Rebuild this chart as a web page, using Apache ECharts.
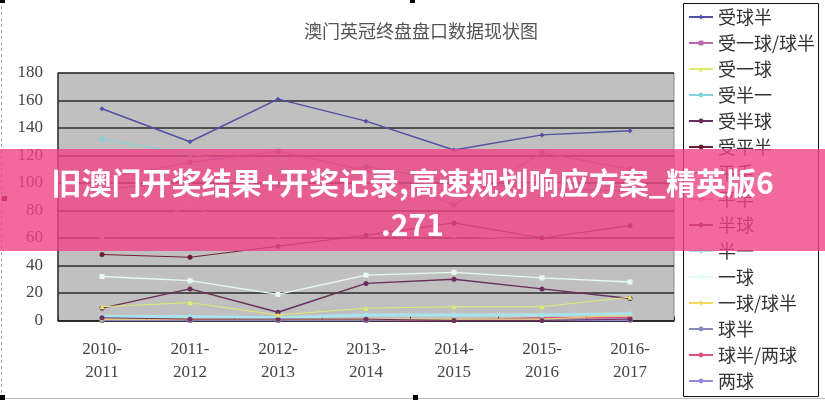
<!DOCTYPE html>
<html>
<head>
<meta charset="utf-8">
<script src="https://cdn.jsdelivr.net/npm/echarts@6/dist/echarts.min.js"></script>
<style>
html,body{margin:0;padding:0;background:#fff;}
#c{width:825px;height:400px;}
</style>
</head>
<body>
<div id="c"></div>
<script>
const titleText = '澳门英冠终盘盘口数据现状图';
const bannerText = '旧澳门开奖结果+开奖记录,高速规划响应方案_精英版6\n.271';
const categories = ['2010-2011','2011-2012','2012-2013','2013-2014','2014-2015','2015-2016','2016-2017'];
const yTicks = [0, 20, 40, 60, 80, 100, 120, 140, 160, 180];

const seriesNames = ['受球半','受一球/球半','受一球','受半一','受半球','受平半','平手','平半','半球','半一','一球','一球/球半','球半','球半/两球','两球'];
const s_shouQiuBan    = [154, 130, 161, 145, 124, 135, 138];
const s_shouYiQiuQB   = [103, 115, 123, 109, 84, 122, 110];
const s_shouYiQiu     = [10, 13, 4, 9, 10, 10, 17];
const s_shouBanYi     = [132, 121, 111, 104, 98, 100, 97];
const s_shouBanQiu    = [9, 23, 6, 27, 30, 23, 16];
const s_shouPingBan   = [48, 46, 54, 62, 71, 60, 69];
const s_pingShou      = [95, 102, 98, 112, 101, 96, 94];
const s_pingBan       = [61, 83, 62, 67, 62, 58, 55];
const s_banQiu        = [2, 1, 1, 1, 0, 0, 1];
const s_banYi         = [3, 3, 2, 4, 4, 4, 5];
const s_yiQiu         = [32, 29, 19, 33, 35, 31, 28];
const s_yiQiuQB       = [1, 1, 1, 1, 1, 1, 4];
const s_qiuBan        = [0, 0, 0, 0, 1, 1, 1];
const s_qiuBanLiangQ  = [0, 0, 0, 0, 0, 2, 2];
const s_liangQiu      = [0, 0, 0, 0, 0, 0, 0];

const seriesData = [s_shouQiuBan, s_shouYiQiuQB, s_shouYiQiu, s_shouBanYi, s_shouBanQiu, s_shouPingBan, s_pingShou, s_pingBan, s_banQiu, s_banYi, s_yiQiu, s_yiQiuQB, s_qiuBan, s_qiuBanLiangQ, s_liangQiu];
const seriesColors = ['#5050a4','#b868b0','#e2ec70','#7fd4dc','#6b2d5e','#6e1c33','#4a9090','#f2b4cc','#703060','#a8e4ee','#e4fbee','#f4d860','#8a8ab8','#e05080','#9a8ad8'];
const seriesSymbols = ['diamond','rect','triangle','circle','circle','circle','circle','rect','circle','circle','rect','diamond','circle','circle','circle'];
const seriesWidths = [1.5,1,1,1,1.5,1,1,1,1,3,1.5,1,1,1.5,1];

const chart = echarts.init(document.getElementById('c'), null, {renderer:'canvas'});

const series = seriesNames.map((n, i) => ({
  name: n,
  type: 'line',
  data: seriesData[i],
  symbol: seriesSymbols[i],
  symbolSize: 5,
  showSymbol: true,
  animation: false,
  itemStyle: { color: seriesColors[i] },
  lineStyle: { color: seriesColors[i], width: seriesWidths[i] },
  z: 3 + (15 - i) * 0.01
}));

const option = {
  animation: false,
  backgroundColor: '#ffffff',
  title: {
    text: titleText,
    left: 416,
    textAlign: 'center',
    top: 17,
    textStyle: { fontFamily: 'Noto Sans CJK SC', fontSize: 18, fontWeight: 'normal', color: '#555' }
  },
  grid: {
    left: 58, right: 151, top: 73, bottom: 79.5,
    show: true, backgroundColor: '#c0c0c0', borderColor: '#8a8a8a', borderWidth: 1
  },
  legend: {
    orient: 'vertical',
    left: 688, top: 7,
    padding: 0,
    itemWidth: 24, itemHeight: 6, itemGap: 6,
    data: seriesNames,
    textStyle: { fontFamily: 'Noto Sans CJK SC', fontSize: 18, color: '#333', lineHeight: 20 },
    selectedMode: false
  },
  xAxis: {
    type: 'category',
    data: categories,
    boundaryGap: true,
    axisLine: { show: true, lineStyle: { color: '#222', width: 1.5 } },
    axisTick: { show: true, inside: true, length: 4, lineStyle: { color: '#333' } },
    axisLabel: {
      margin: 18,
      fontFamily: 'Liberation Serif', fontSize: 17, color: '#444', lineHeight: 23,
      formatter: v => v.replace('-', '-\n')
    },
    splitLine: { show: false }
  },
  yAxis: {
    type: 'value',
    min: yTicks[0], max: yTicks[yTicks.length - 1], interval: 20,
    axisLine: { show: true, lineStyle: { color: '#333', width: 1.5 } },
    axisTick: { show: false },
    axisLabel: { margin: 15, fontFamily: 'Liberation Serif', fontSize: 17, color: '#444' },
    splitLine: { show: true, lineStyle: { color: '#2a2a2a', width: 1.5 } }
  },
  series: series,
  graphic: [
    { type: 'rect', z: 0, shape: { x: 683.5, y: 3.5, width: 135, height: 393 }, style: { fill: '#fff', stroke: '#111', lineWidth: 1 } },
    { type: 'line', z: 0, shape: { x1: 1.5, y1: 0, x2: 1.5, y2: 400 }, style: { stroke: '#aaa', lineWidth: 1, lineDash: [3, 3] } },
    { type: 'line', z: 0, shape: { x1: 0, y1: 398.5, x2: 825, y2: 398.5 }, style: { stroke: '#bbb', lineWidth: 1 } },
    { type: 'rect', z: 0, shape: { x: 0, y: 0, width: 5, height: 3 }, style: { fill: '#000' } },
    { type: 'rect', z: 0, shape: { x: 410, y: 0, width: 5, height: 3 }, style: { fill: '#000' } },
    { type: 'rect', z: 0, shape: { x: 0, y: 395, width: 5, height: 5 }, style: { fill: '#000' } },
    { type: 'rect', z: 0, shape: { x: 413, y: 395, width: 5, height: 5 }, style: { fill: '#000' } },
    { type: 'rect', z: 0, shape: { x: 2, y: 196, width: 5, height: 5 }, style: { fill: '#600' } },
    { type: 'rect', z: 100, shape: { x: 0, y: 149, width: 825, height: 102 }, style: { fill: 'rgba(238,68,132,0.8)' } },
    { type: 'text', z: 101, left: 'center', top: 162,
      style: { text: bannerText, fill: '#fff',
        font: 'bold 30px "Noto Sans CJK SC"', textAlign: 'center', lineHeight: 42 } }
  ]
};
chart.setOption(option);
</script>
</body>
</html>
